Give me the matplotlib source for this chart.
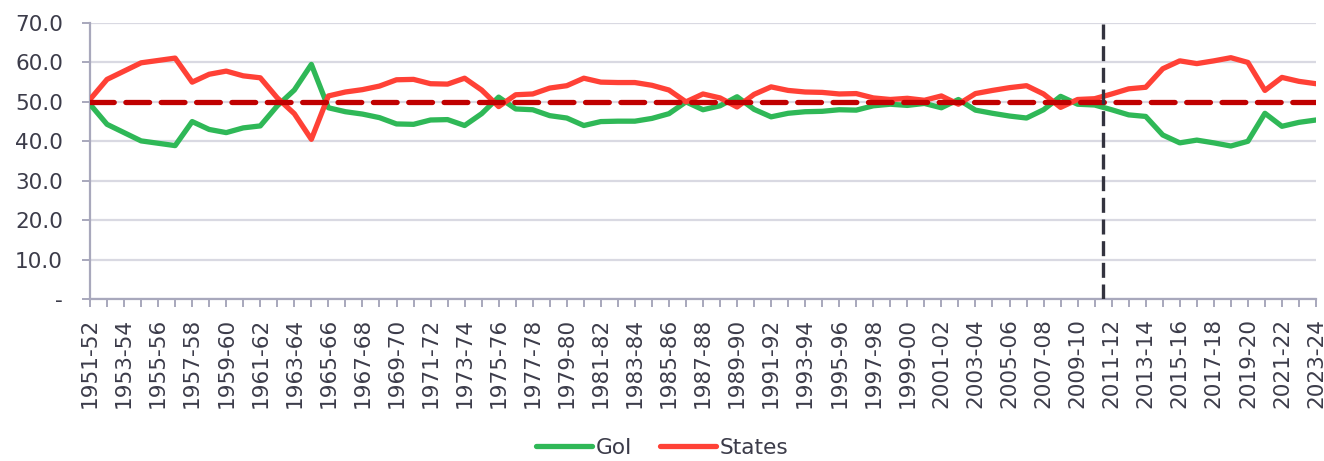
import matplotlib
matplotlib.use("Agg")
import matplotlib.pyplot as plt
from matplotlib.ticker import FuncFormatter, MultipleLocator

years = [f"{y}-{str(y + 1)[-2:]}" for y in range(1951, 2024)]

goi = [49.4, 44.3, 42.2, 40.1, 39.5, 38.9, 45.0, 43.0, 42.2, 43.4,
       43.9, 49.0, 53.0, 59.5, 48.5, 47.5, 46.9, 46.0, 44.4, 44.3,
       45.4, 45.5, 44.0, 47.0, 51.2, 48.2, 48.0, 46.5, 45.9, 44.0,
       45.0, 45.1, 45.1, 45.8, 47.0, 50.0, 48.0, 49.0, 51.3, 48.1,
       46.2, 47.1, 47.5, 47.6, 48.0, 47.9, 49.0, 49.4, 49.1, 49.6,
       48.5, 50.6, 47.9, 47.1, 46.4, 45.9, 48.0, 51.4, 49.4, 49.2,
       48.0, 46.7, 46.3, 41.6, 39.6, 40.3, 39.6, 38.8, 40.0, 47.1,
       43.8, 44.8, 45.4]

states = [50.6, 55.7, 57.8, 59.9, 60.5, 61.1, 55.0, 57.0, 57.8, 56.6,
          56.1, 51.0, 47.0, 40.5, 51.5, 52.5, 53.1, 54.0, 55.6, 55.7,
          54.6, 54.5, 56.0, 53.0, 48.8, 51.8, 52.0, 53.5, 54.1, 56.0,
          55.0, 54.9, 54.9, 54.2, 53.0, 50.0, 52.0, 51.0, 48.7, 51.9,
          53.8, 52.9, 52.5, 52.4, 52.0, 52.1, 51.0, 50.6, 50.9, 50.4,
          51.5, 49.4, 52.1, 52.9, 53.6, 54.1, 52.0, 48.6, 50.6, 50.8,
          52.0, 53.3, 53.7, 58.4, 60.4, 59.7, 60.4, 61.2, 60.0, 52.9,
          56.2, 55.2, 54.6]

reference_level = 50.0
break_position = 59.5  # between 2010-11 and 2011-12

plt.rcParams['font.family'] = ['DejaVu Sans']
text_color = '#3c3c4a'
grid_color = '#d9d9e2'
axis_color = '#a8a8bc'
fs = 15.6

fig = plt.figure(figsize=(13.24, 4.61), dpi=100)
ax = fig.add_axes([90 / 1324, 1 - 299 / 461, (1316 - 90) / 1324, (299 - 23) / 461])

x = list(range(len(years)))
ax.plot(x, goi, color='#2fb857', lw=3.8, solid_joinstyle='round',
        solid_capstyle='round', label='GoI', zorder=3)
ax.plot(x, states, color='#ff4136', lw=3.8, solid_joinstyle='round',
        solid_capstyle='round', label='States', zorder=3)
ax.plot(x, [reference_level] * len(x), color='#c00000', lw=3.8,
        dashes=(4.5, 2.2), dash_capstyle='round', zorder=4)
ax.axvline(break_position, color='#33333f', lw=2.4, dashes=(4.5, 2.0), zorder=5)

ax.set_xlim(0, len(years) - 1)
ax.set_ylim(0, 70)
ax.yaxis.set_major_locator(MultipleLocator(10))
ax.yaxis.set_major_formatter(FuncFormatter(lambda v, p: '-' if abs(v) < 1e-9 else f'{v:.1f}'))
ax.set_xticks(x)
ax.set_xticklabels([lab if i % 2 == 0 else '' for i, lab in enumerate(years)],
                   rotation=90)
ax.grid(axis='y', color=grid_color, lw=1.6, zorder=0)
ax.set_axisbelow(True)
for s in ['top', 'right']:
    ax.spines[s].set_visible(False)
for s in ['left', 'bottom']:
    ax.spines[s].set_color(axis_color)
    ax.spines[s].set_linewidth(1.6)
ax.tick_params(axis='both', colors=axis_color, width=1.4, length=5.5,
               labelcolor=text_color, labelsize=fs)
ax.tick_params(axis='x', pad=8)
ax.tick_params(axis='y', pad=14)

leg = fig.legend(loc='lower center', bbox_to_anchor=(0.5, -0.012), ncol=2,
                 frameon=False, fontsize=fs, handlelength=2.6,
                 handletextpad=0.15, columnspacing=1.3, borderaxespad=0)
for t in leg.get_texts():
    t.set_color(text_color)

fig.savefig('out.png', dpi=100)
